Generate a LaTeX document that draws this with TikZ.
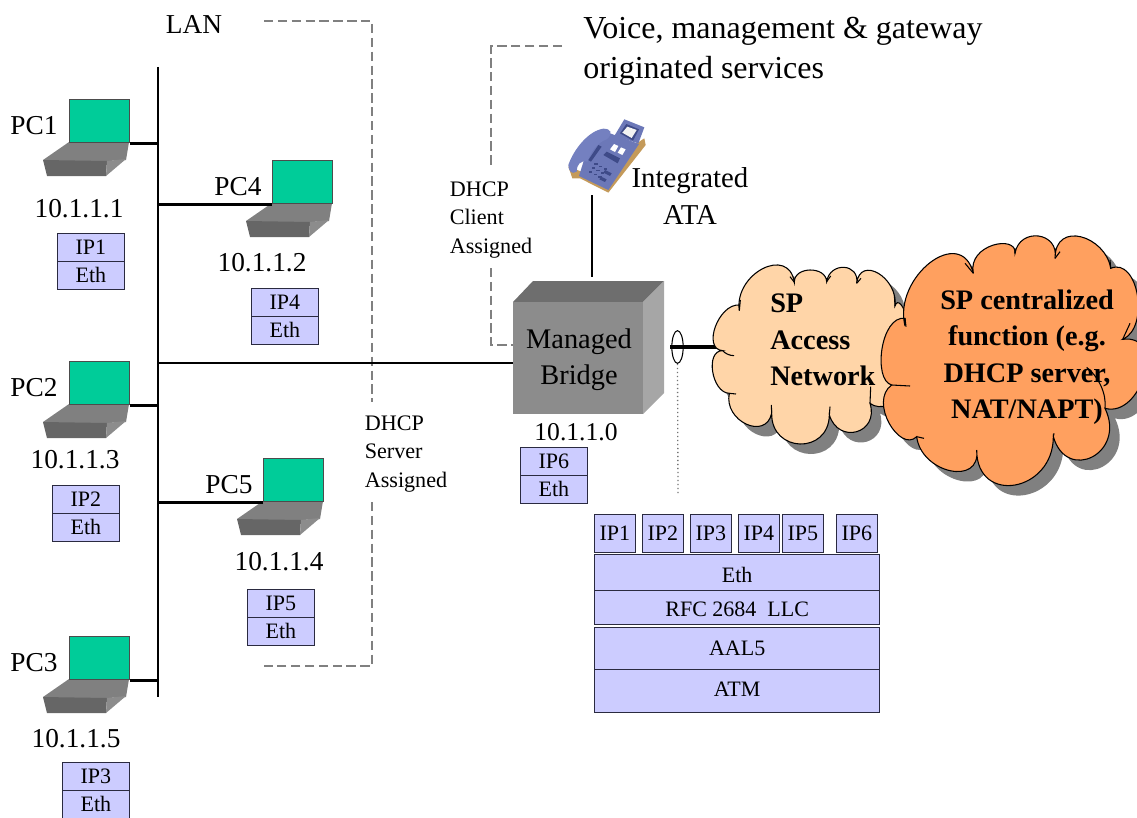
\documentclass[tikz,border=0pt]{standalone}
\usepackage{fontspec}
\setmainfont{Liberation Serif}
\usetikzlibrary{calc,shapes.geometric}
\definecolor{stackfill}{HTML}{CCCCFF}
\definecolor{stackline}{HTML}{2A2A40}
\definecolor{screengreen}{HTML}{00CC99}
\definecolor{dashgray}{HTML}{808080}
\definecolor{cloudlight}{HTML}{FFD5A8}
\definecolor{cloudorange}{HTML}{FFA05F}
\definecolor{phonetan}{HTML}{C49A5A}
\definecolor{phonemain}{HTML}{6C78B8}
\definecolor{phonehand}{HTML}{7480C0}
\definecolor{phonedark}{HTML}{3E4A88}
\newcommand{\lobe}[3]{.. controls ($.33333*(#1)+1.33333*(#2)-.66666*(#3)$) and ($.33333*(#3)+1.33333*(#2)-.66666*(#1)$) .. (#3)}
\newcommand{\lightcloud}{(118,272) \lobe{118,272}{188,146}{283,187} \lobe{283,187}{330,150}{380,185} \lobe{380,185}{432,142}{470,190}
  \lobe{470,190}{535,160}{585,258} \lobe{585,258}{625,300}{640,420} \lobe{640,420}{620,520}{510,550} \lobe{510,550}{470,635}{388,585} \lobe{388,585}{300,672}{215,580}
  \lobe{215,580}{138,612}{88,520} \lobe{88,520}{38,455}{68,392} \lobe{68,392}{46,320}{118,255} -- cycle}
\newcommand{\orangecloud}{(615,318) \lobe{615,318}{690,128}{820,160} \lobe{795,130}{875,72}{945,100} \lobe{945,100}{1015,48}{1065,115}
  \lobe{1080,95}{1145,48}{1232,145} \lobe{1232,145}{1312,225}{1268,358} \lobe{1290,310}{1335,460}{1215,565}
  \lobe{1240,560}{1180,710}{1060,650} \lobe{1060,650}{945,795}{830,690} \lobe{830,690}{750,752}{650,650} \lobe{670,650}{570,610}{575,495}
  \lobe{590,490}{548,385}{615,295} -- cycle}
\tikzset{
  x=0.75pt,y=-0.75pt,
  label21/.style={inner sep=0pt,font=\fontsize{20.5}{24}\selectfont,align=center},
  label16/.style={inner sep=0pt,font=\fontsize{16.6}{21.4}\selectfont,align=left},
  boldtext/.style={inner sep=0pt,font=\fontsize{21.2}{27.3}\selectfont\bfseries},
  wire/.style={draw=black,line width=1.9pt},
  thinwire/.style={draw=black,line width=0.9pt},
  dhcpdash/.style={draw=dashgray,line width=1.5pt,dash pattern=on 7pt off 3.4pt},
  stackcell/.style={draw=stackline,fill=stackfill,line width=0.8pt,inner sep=0pt,font=\fontsize{16.5}{18}\selectfont,anchor=north west},
  pair/.style={stackcell,minimum width=50pt,minimum height=20.7pt},
  tip/.style={stackcell,minimum width=30.5pt,minimum height=28.5pt},
  screen/.style={draw=black!70,fill=screengreen,line width=0.8pt,minimum width=45pt,minimum height=32.5pt,inner sep=0pt,anchor=north west},
}
% laptop: #1 name, #2 x, #3 y of screen's top-left corner
\newcommand{\laptop}[3]{%
  \fill[black!50] (#2,#3+43) -- (#2+60,#3+43) -- (#2+57,#3+61) -- (#2+38,#3+62) -- (#2-26,#3+62) -- (#2-26,#3+61) -- cycle;
  \fill[black!60] (#2-26,#3+61) -- (#2+38,#3+62) -- (#2+37,#3+77) -- (#2-22,#3+77) -- cycle;
  \fill[black!45] (#2+38,#3+62) -- (#2+57,#3+60) -- (#2+37,#3+77) -- cycle;
  \node[screen] (#1) at (#2,#3) {};
}
\begin{document}
\begin{tikzpicture}
\useasboundingbox (0,0) rectangle (1137,817);
% LAN bus
\coordinate (bustop) at (158,67);
\coordinate (busbot) at (158,697);
\draw[wire] (bustop) -- (busbot);
% laptops
\laptop{pc1}{69}{99}
\laptop{pc4}{272}{160}
\laptop{pc2}{69}{361}
\laptop{pc5}{263}{458}
\laptop{pc3}{69}{636}
\draw[wire] (pc1.south east) -- (pc1.south east -| bustop);
\draw[wire] (pc4.south west) -- (pc4.south west -| bustop);
\draw[wire] (pc2.south east) -- (pc2.south east -| bustop);
\draw[wire] (pc5.south west) -- (pc5.south west -| bustop);
\draw[wire] (pc3.south east) -- (pc3.south east -| bustop);
% labels
\node[label21] (lan) at (194,24) {LAN};
\node[label21] (lpc1) at (34,126) {PC1};
\node[label21] (lpc4) at (238,187) {PC4};
\node[label21] (lpc2) at (34,388) {PC2};
\node[label21] (lpc5) at (229,485) {PC5};
\node[label21] (lpc3) at (34,663) {PC3};
\node[label21] (a1) at (79,209) {10.1.1.1};
\node[label21] (a2) at (262,263) {10.1.1.2};
\node[label21] (a3) at (75,460) {10.1.1.3};
\node[label21] (a4) at (279,562) {10.1.1.4};
\node[label21] (a5) at (76,739) {10.1.1.5};
\node[label21,font=\fontsize{19.2}{24}\selectfont] (a0) at (576,432) {10.1.1.0};
% stacks
\node[pair] (s1a) at (57,233) {IP1};
\node[pair] (s1b) at (57,261) {Eth};
\node[pair] (s4a) at (251,288) {IP4};
\node[pair] (s4b) at (251,316) {Eth};
\node[pair] (s2a) at (52,485) {IP2};
\node[pair] (s2b) at (52,513) {Eth};
\node[pair] (s5a) at (247,589) {IP5};
\node[pair] (s5b) at (247,617) {Eth};
\node[pair] (s3a) at (62,762) {IP3};
\node[pair] (s3b) at (62,790) {Eth};
\node[pair] (s6a) at (520,447) {IP6};
\node[pair] (s6b) at (520,475) {Eth};
% dashed service brackets
\coordinate (lanA) at (264,21);
\coordinate (lanB) at (372,21);
\coordinate (lanC) at (372,402);
\coordinate (lanD) at (372,502);
\coordinate (lanE) at (372,666);
\coordinate (lanF) at (264,666);
\draw[dhcpdash] (lanA) -- (lanB) -- (lanC);
\draw[dhcpdash] (lanD) -- (lanE) -- (lanF);
\coordinate (voiceA) at (562,46);
\coordinate (voiceB) at (491,46);
\coordinate (voiceC) at (491,168);
\coordinate (voiceD) at (491,268);
\coordinate (voiceE) at (491,345);
\draw[dhcpdash] (voiceA) -- (voiceB) -- (voiceC);
\node[label16] (dhcps) at (406,454) {DHCP\\Server\\Assigned};
\node[label16] (dhcpc) at (491,220) {DHCP\\Client\\Assigned};
\node[inner sep=0pt,font=\fontsize{24}{30}\selectfont,align=left,anchor=north west] (voice) at (583,17) {Voice, management \& gateway\\originated services};
% bridge
\fill[black!57] (513,302) -- (533,281) -- (664,281) -- (643,302) -- cycle;
\fill[black!35] (643,302) -- (664,281) -- (664,393) -- (643,414) -- cycle;
\node[fill=black!45,minimum width=97.5pt,minimum height=84pt,inner sep=0pt,anchor=north west] (bridge) at (513,302) {};
\node[inner sep=0pt,font=\fontsize{21.3}{27}\selectfont,align=center] (bridgetext) at (579,360) {Managed\\Bridge};
\draw[dhcpdash] (voiceD) -- (voiceE) -- (voiceE -| bridge.west);
\coordinate (busout) at (158,363);
\draw[wire] (busout) -- (busout -| bridge.west);
% phone
\begin{scope}[shift={(555,110)},x=.25pt,y=-.25pt]
  \fill[phonetan] (40,170) -- (52,205) -- (75,205) -- (160,248) -- (272,105) -- (268,85) -- (230,110) -- (120,200) -- cycle;
  \fill[phonemain] (178,78) -- (208,28) -- (268,52) -- (250,100) -- cycle;
  \fill[phonedark] (195,70) -- (214,42) -- (252,58) -- (234,92) -- cycle;
  \fill[black!5] (202,68) -- (217,50) -- (245,60) -- (230,84) -- cycle;
  \fill[phonemain] (90,140) -- (125,85) -- (165,70) -- (252,102) -- (160,240) -- (72,198) -- cycle;
  \fill[phonehand] (40,165) .. controls (55,120) and (100,62) .. (145,56) .. controls (168,56) and (176,70) .. (155,88) .. controls (125,98) and (105,130) .. (98,155) .. controls (75,150) and (65,165) .. (65,185) .. controls (50,195) and (40,182) .. (40,165) -- cycle;
  \fill[phonedark] (100,150) -- (130,105) -- (140,110) -- (108,155) -- cycle;
  \fill[white] (165,118) -- (177,102) -- (190,108) -- (180,126) -- cycle;
  \fill[white] (188,128) -- (198,112) -- (212,118) -- (202,135) -- cycle;
  \fill[phonedark] (145,135) -- (155,125) -- (195,145) -- (188,160) -- cycle;
  \foreach \kx/\ky in {118/160,132/167,146/174,110/172,124/179,138/186,102/184,116/191,130/198}
    \fill[phonedark] (\kx,\ky) rectangle +(10,5);
  \fill[phonedark] (150,180) -- (170,190) -- (165,198) -- (145,188) -- cycle;
  \fill[phonedark] (138,200) -- (155,208) -- (150,216) -- (133,208) -- cycle;
\end{scope}
\coordinate (phonebot) at (592,195);
\coordinate (phoneend) at (592,277);
\draw[thinwire] (phonebot) -- (phoneend);
\node[inner sep=0pt,font=\fontsize{21.6}{27.5}\selectfont,align=center] (ata) at (690,196) {Integrated\\ATA};
% clouds
\coordinate (accessin) at (722,347);
\coordinate (accessout) at (670,347);
\draw[draw=black,line width=3.4pt] (accessout) -- (accessin);
\node[draw=black,line width=.8pt,ellipse,minimum width=8.5pt,minimum height=24.5pt,inner sep=0pt] (probe) at (677.5,347) {};
\coordinate (stacktop) at (678,495);
\draw[draw=black!55,line width=1pt,dotted] (probe.south) -- (stacktop);
\begin{scope}[shift={(700,220)},x=.25pt,y=-.25pt]
  \fill[black!50] [shift={(30,30)}] \lightcloud;
  \filldraw[fill=cloudlight,draw=black,line width=.8pt] \lightcloud;
  \draw[line width=.8pt] (118,272) -- (121,240) (68,392) .. controls (75,400) and (88,407) .. (102,407) (88,520) -- (108,522) (215,580) -- (214,555) (388,585) -- (390,560) (510,550) -- (512,500) (283,187) -- (270,170) (380,185) -- (392,168) (470,190) -- (483,175) (585,258) -- (583,225);
  \fill[black!50] [shift={(30,30)}] \orangecloud;
  \filldraw[fill=cloudorange,draw=black,line width=.8pt] \orangecloud;
  \draw[line width=.8pt] (615,295) -- (618,320) (575,495) -- (630,498) (650,650) -- (672,655) (1060,650) -- (1062,640) (820,160) -- (795,130) (945,100) -- (945,85) (1065,115) -- (1080,95) (1232,145) -- (1230,120) (1268,358) -- (1290,310) (1215,565) .. controls (1220,520) and (1195,470) .. (1160,442);
\end{scope}
\node[boldtext,align=left,anchor=north west] (access) at (770,294) {SP\\Access\\Network};
\node[boldtext,align=center] (central) at (1027,357) {SP centralized\\function (e.g.\\DHCP server,\\NAT/NAPT)};
% gateway stack
\node[tip] (g1) at (594,514) {IP1};
\node[tip] (g2) at (642,514) {IP2};
\node[tip] (g3) at (690,514) {IP3};
\node[tip] (g4) at (738,514) {IP4};
\node[tip] (g5) at (782,514) {IP5};
\node[tip] (g6) at (836,514) {IP6};
\node[stackcell,minimum width=214pt,minimum height=27pt] (geth) at (594,554) {\raisebox{-1.5pt}[\height][\depth]{Eth}};
\node[stackcell,minimum width=214pt,minimum height=25.5pt] (grfc) at (594,590) {\raisebox{-1.5pt}[\height][\depth]{RFC 2684\ \ LLC}};
\node[stackcell,minimum width=214pt,minimum height=31.5pt] (gaal) at (594,627) {AAL5};
\node[stackcell,minimum width=214pt,minimum height=32.25pt] (gatm) at (594,669) {\raisebox{1.5pt}[\height][\depth]{ATM}};
\end{tikzpicture}
\end{document}
